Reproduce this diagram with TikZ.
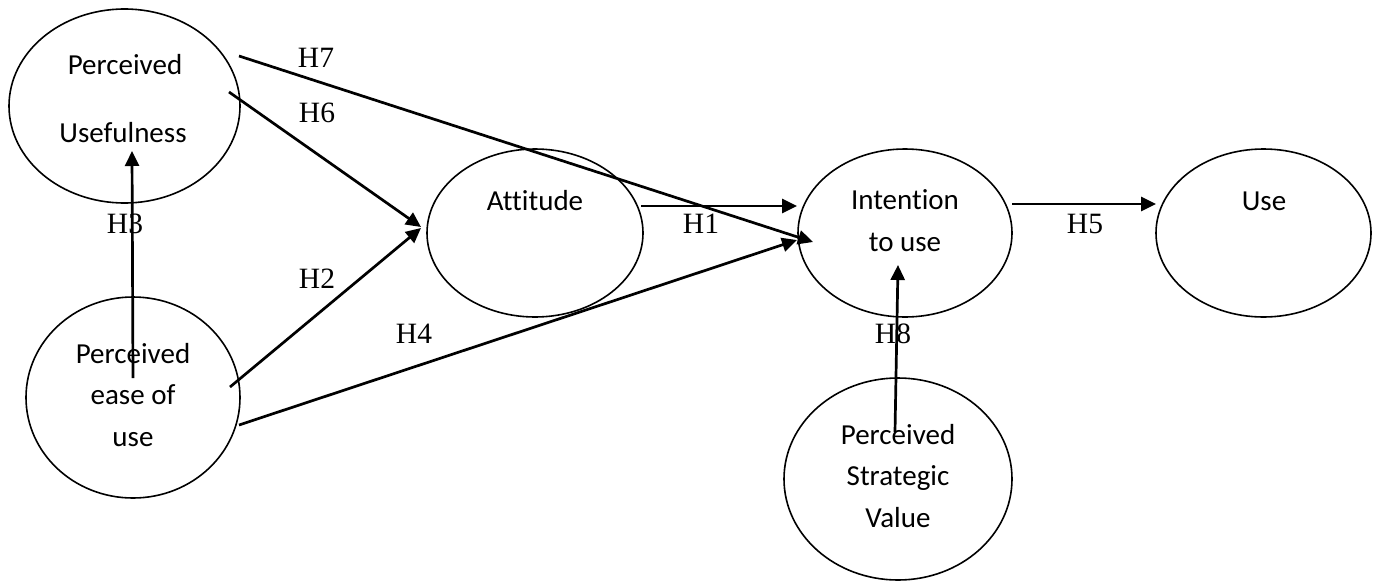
\documentclass[tikz,border=0pt]{standalone}
\usepackage{fontspec}
\setmainfont[Ligatures={NoCommon}]{Carlito}
\newfontfamily\hfont{Liberation Serif}
\usetikzlibrary{shapes.geometric,arrows.meta}
\tikzset{
  construct/.style={draw, ellipse, line width=1.6pt, inner sep=0pt},
  lbl/.style={anchor=base, inner sep=0pt, font=\fontsize{29}{35}\selectfont},
  hyp/.style={anchor=base, inner sep=0pt, font=\hfont\fontsize{29.5}{35}\selectfont},
  path/.style={line width=2.7pt, -{Triangle[length=15pt,width=14pt]}}
}
\begin{document}
\begin{tikzpicture}[x=1pt,y=-1pt]
\useasboundingbox (0,0) rectangle (1373,581);
% ellipses
\node[construct, minimum width=231pt, minimum height=194pt] (PU) at (124.5,106) {};
\node[construct, minimum width=214pt, minimum height=201pt] (PEOU) at (133,397.5) {};
\node[construct, minimum width=216pt, minimum height=168pt] (ATT) at (535,233) {};
\node[construct, minimum width=214pt, minimum height=168pt] (INT) at (905,233) {};
\node[construct, minimum width=215pt, minimum height=168pt] (USE) at (1263.5,233) {};
\node[construct, minimum width=228pt, minimum height=202pt] (PSV) at (898,479) {};
% texts
\node[lbl] (pu1) at (125,74) {Perceived};
\node[lbl] (pu2) at (123,142) {Usefulness};
\node[lbl] (pe1) at (133,363) {Perceived};
\node[lbl] (pe2) at (133,404) {ease of};
\node[lbl] (pe3) at (133,446) {use};
\node[lbl] (at1) at (535,210) {Attitude};
\node[lbl] (in1) at (905,209) {Intention};
\node[lbl] (in2) at (905,251) {to use};
\node[lbl] (us1) at (1264,210) {Use};
\node[lbl] (ps1) at (898,444) {Perceived};
\node[lbl] (ps2) at (898,485) {Strategic};
\node[lbl] (ps3) at (898,527) {Value};
% connector end points
\coordinate (h7s) at (239,56);
\coordinate (h7e) at (813,242);
\coordinate (h6s) at (229,92);
\coordinate (h6e) at (421,227);
\coordinate (h2s) at (230,387);
\coordinate (h2e) at (421,228);
\coordinate (h4s) at (239,425);
\coordinate (h4e) at (797,240);
\coordinate (h3s) at (133,378);
\coordinate (h3e) at (132,151);
\coordinate (h1s) at (641,206);
\coordinate (h1e) at (797,206);
\coordinate (h5s) at (1012,204);
\coordinate (h5e) at (1156,204);
\coordinate (h8s) at (895,432);
\coordinate (h8e) at (898,265);
% connectors
\draw[path] (h7s) -- (h7e);
\draw[path] (h6s) -- (h6e);
\draw[path] (h2s) -- (h2e);
\draw[path] (h4s) -- (h4e);
\draw[path] (h3s) -- (h3e);
\draw[path] (h1s) -- (h1e);
\draw[path] (h5s) -- (h5e);
\draw[path] (h8s) -- (h8e);
% hypothesis labels
\node[hyp] (H7) at (316,67) {H7};
\node[hyp] (H6) at (317,122) {H6};
\node[hyp] (H3) at (125,233) {H3};
\node[hyp] (H2) at (317,288) {H2};
\node[hyp] (H4) at (414,343) {H4};
\node[hyp] (H1) at (701,233) {H1};
\node[hyp] (H5) at (1085,233) {H5};
\node[hyp] (H8) at (893,343) {H8};
\end{tikzpicture}
\end{document}
